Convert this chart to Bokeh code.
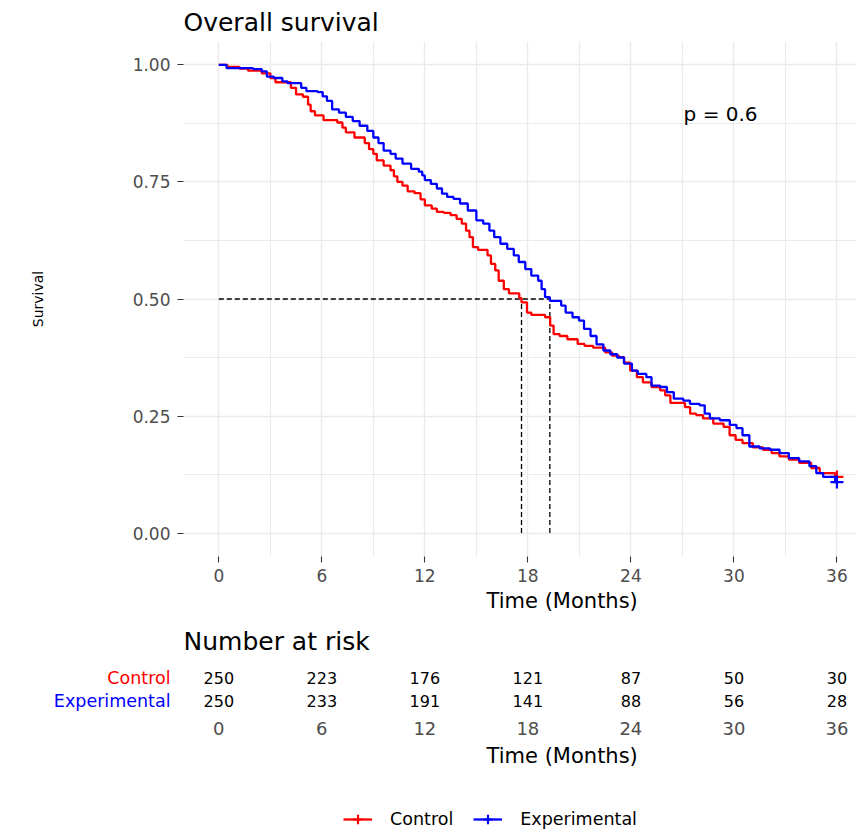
from bokeh.plotting import figure
from bokeh.models import (ColumnDataSource, FixedTicker, Legend, LegendItem,
                          Range1d, NumeralTickFormatter)
from bokeh.layouts import column
from bokeh.embed import file_html
from bokeh.resources import INLINE
from bokeh.core.properties import value

FONT = "DejaVu Sans"

# ---------------- data ----------------
groups = ["Control", "Experimental"]
colors = ["#FF0000", "#0000FF"]

control_time = [0, 0.5, 1.2, 1.7, 2.5, 3.0, 3.3, 4.2, 4.5, 4.9, 5.2, 5.35, 5.6, 6.1, 6.9,
                7.2, 7.4, 7.9, 8.5, 8.75, 9.0, 9.2, 9.6, 10.0, 10.2, 10.4, 10.7, 11.0, 11.4,
                11.75, 12.0, 12.4, 12.7, 13.1, 13.5, 13.85, 14.15, 14.4, 14.6, 14.8, 15.1,
                15.65, 15.85, 16.1, 16.3, 16.6, 16.9, 17.5, 17.63, 17.95, 18.2, 19.0, 19.3,
                19.5, 19.85, 20.3, 20.9, 21.3, 21.8, 22.5, 22.9, 23.3, 23.6, 23.96, 24.35,
                24.7, 25.2, 25.7, 26.0, 26.3, 27.15, 27.45, 27.8, 28.2, 28.8, 29.4, 29.75,
                30.1, 30.5, 31.1, 31.7, 32.2, 32.65, 33.2, 33.8, 34.5, 35.0, 35.9, 36.0]
control_surv = [1.0, 0.996, 0.992, 0.988, 0.982, 0.972, 0.963, 0.951, 0.937, 0.932, 0.915,
                0.901, 0.892, 0.882, 0.877, 0.866, 0.856, 0.845, 0.833, 0.820, 0.810, 0.796,
                0.785, 0.775, 0.762, 0.750, 0.742, 0.730, 0.726, 0.713, 0.700, 0.693, 0.686,
                0.684, 0.679, 0.671, 0.661, 0.646, 0.632, 0.611, 0.605, 0.593, 0.575, 0.561,
                0.539, 0.521, 0.512, 0.502, 0.493, 0.471, 0.466, 0.461, 0.443, 0.425, 0.421,
                0.414, 0.404, 0.400, 0.396, 0.386, 0.379, 0.376, 0.364, 0.347, 0.333, 0.322,
                0.312, 0.305, 0.294, 0.278, 0.269, 0.255, 0.252, 0.245, 0.234, 0.227, 0.209,
                0.199, 0.192, 0.183, 0.178, 0.171, 0.164, 0.157, 0.150, 0.139, 0.128, 0.120,
                0.120]

exp_time = [0, 0.45, 2.0, 2.5, 2.8, 3.2, 3.7, 4.0, 4.8, 5.1, 5.75, 6.05, 6.3, 6.6, 7.0, 7.4,
            7.8, 8.2, 8.65, 9.0, 9.3, 9.6, 10.0, 10.3, 10.7, 11.2, 11.65, 11.85, 12.0, 12.35,
            12.7, 13.0, 13.3, 13.67, 14.05, 14.5, 15.0, 15.4, 15.76, 16.04, 16.4, 16.8, 17.18,
            17.47, 17.85, 18.2, 18.6, 18.8, 19.0, 19.28, 19.94, 20.2, 20.6, 20.98, 21.27,
            21.65, 22.0, 22.4, 22.8, 23.2, 23.6, 24.06, 24.4, 24.9, 25.2, 25.7, 26.1, 26.5,
            27.05, 27.44, 28.0, 28.3, 28.6, 29.18, 29.76, 30.15, 30.5, 30.9, 31.5, 32.1,
            32.66, 33.2, 33.8, 34.4, 34.8, 35.2, 35.9, 36.0]
exp_surv = [1.0, 0.993, 0.991, 0.986, 0.975, 0.972, 0.965, 0.961, 0.951, 0.944, 0.942, 0.933,
            0.923, 0.905, 0.898, 0.889, 0.880, 0.870, 0.859, 0.845, 0.833, 0.817, 0.810, 0.800,
            0.789, 0.778, 0.772, 0.764, 0.754, 0.746, 0.736, 0.725, 0.718, 0.714, 0.704, 0.689,
            0.668, 0.661, 0.646, 0.632, 0.618, 0.607, 0.593, 0.579, 0.564, 0.550, 0.539, 0.521,
            0.504, 0.496, 0.486, 0.471, 0.461, 0.454, 0.436, 0.421, 0.403, 0.390, 0.382, 0.375,
            0.362, 0.347, 0.340, 0.333, 0.315, 0.312, 0.301, 0.287, 0.283, 0.276, 0.273, 0.255,
            0.245, 0.241, 0.231, 0.224, 0.209, 0.185, 0.181, 0.178, 0.171, 0.160, 0.153, 0.143,
            0.128, 0.120, 0.109, 0.109]

median_times = [17.63, 19.28]
median_level = 0.5
p_value_text = "p = 0.6"

x_ticks = [0, 6, 12, 18, 24, 30, 36]
y_ticks = [0.0, 0.25, 0.5, 0.75, 1.0]

risk_times = [0, 6, 12, 18, 24, 30, 36]
control_risk = [250, 223, 176, 121, 87, 50, 30]
exp_risk = [250, 233, 191, 141, 88, 56, 28]

TICK_GREY = "#4D4D4D"
GRID = "#EBEBEB"
W = 856


def no_align(fig):
    if "frame_align" in fig.properties():
        fig.frame_align = False


# ---------------- main survival plot ----------------
p = figure(width=W, height=588, x_range=Range1d(-2.056, 37.14), y_range=Range1d(-0.05, 1.05),
           output_backend="svg", toolbar_location=None, title="Overall survival",
           min_border_left=183, min_border_right=0, min_border_top=41, min_border_bottom=32)
no_align(p)
p.outline_line_color = None
p.title.text_font = FONT
p.title.text_font_size = "25px"
p.title.text_font_style = "normal"
p.title.text_color = "black"
p.title.standoff = 10
p.title.offset = 0

x_minor = [a + (b - a) / 2 for a, b in zip(x_ticks[:-1], x_ticks[1:])]
y_minor = [a + (b - a) / 2 for a, b in zip(y_ticks[:-1], y_ticks[1:])]
p.xaxis.ticker = FixedTicker(ticks=x_ticks, minor_ticks=x_minor)
p.yaxis.ticker = FixedTicker(ticks=y_ticks, minor_ticks=y_minor)
p.yaxis.formatter = NumeralTickFormatter(format="0.00")

for grid in (p.xgrid, p.ygrid):
    grid.grid_line_color = GRID
    grid.grid_line_width = 1.4
    grid.minor_grid_line_color = GRID
    grid.minor_grid_line_width = 1.2

for ax in (p.xaxis, p.yaxis):
    ax.axis_line_color = None
    ax.major_tick_out = 6
    ax.major_tick_in = 0
    ax.minor_tick_out = 0
    ax.minor_tick_in = 0
    ax.major_tick_line_color = "#333333"
    ax.major_tick_line_width = 1.1
    ax.major_label_text_font = FONT
    ax.major_label_text_font_size = "17px"
    ax.major_label_text_color = TICK_GREY
p.xaxis.major_label_standoff = 6
p.yaxis.major_label_standoff = 7

p.yaxis.axis_label = "Survival"
p.yaxis.axis_label_text_font = FONT
p.yaxis.axis_label_text_font_size = "14px"
p.yaxis.axis_label_text_font_style = "normal"
p.yaxis.axis_label_text_color = "black"
p.yaxis.axis_label_standoff = 84

# median reference lines
top_median = max(median_times)
p.segment(x0=[0], y0=[median_level], x1=[top_median], y1=[median_level],
          line_color="black", line_width=1.3, line_dash="5 3")
p.segment(x0=median_times, y0=[0] * len(median_times), x1=median_times,
          y1=[median_level] * len(median_times),
          line_color="black", line_width=1.3, line_dash="5 3")

curves = [(control_time, control_surv), (exp_time, exp_surv)]
sources = []
for (t, s), c in zip(curves, colors):
    src = ColumnDataSource(dict(t=t, s=s))
    sources.append(src)
    p.step(x="t", y="s", source=src, mode="after", line_color=c, line_width=2.3)
    p.scatter(x=[t[-1]], y=[s[-1]], marker="cross", size=13, line_color=c, line_width=2.2)

p.text(x=[27.07], y=[0.895], text=[p_value_text], text_font=value(FONT),
       text_font_size="20px", text_align="left", text_baseline="middle", text_color="black")

# ---------------- risk table ----------------
risk_x_range = Range1d(-12.714, 37.14)
p2 = figure(width=W, height=154, x_range=risk_x_range, y_range=Range1d(0.478, 5.913),
            output_backend="svg", toolbar_location=None, y_axis_location=None,
            min_border_left=0, min_border_right=0, min_border_top=0, min_border_bottom=29)
no_align(p2)
p2.outline_line_color = None
p2.grid.visible = False

p2.xaxis.ticker = FixedTicker(ticks=risk_times)
p2.xaxis.axis_line_color = None
p2.xaxis.major_tick_out = 0
p2.xaxis.major_tick_in = 0
p2.xaxis.minor_tick_out = 0
p2.xaxis.minor_tick_in = 0
p2.xaxis.major_label_text_font = FONT
p2.xaxis.major_label_text_font_size = "18px"
p2.xaxis.major_label_text_color = TICK_GREY
p2.xaxis.major_label_standoff = 8

# x-axis title of the survival plot (placed under its tick labels)
p2.text(x=[20.0], y=[5.348], text=["Time (Months)"], text_font=value(FONT),
        text_font_size="21px", text_color="black", text_align="center", text_baseline="middle")
# risk-table heading
p2.text(x=[-2.056], y=[3.609], text=["Number at risk"], text_font=value(FONT),
        text_font_size="25px", text_color="black", text_align="left", text_baseline="middle")

rows = [len(groups) - i for i in range(len(groups))]
p2.text(x=[-2.81] * len(groups), y=rows, text=groups, text_color=colors,
        text_font=value(FONT), text_font_size="17.5px", text_align="right",
        text_baseline="middle")
for row, counts in zip(rows, [control_risk, exp_risk]):
    p2.text(x=risk_times, y=[row] * len(risk_times), text=[str(n) for n in counts],
            text_font=value(FONT), text_font_size="16px", text_color="black",
            text_align="center", text_baseline="middle")

# ---------------- bottom strip: axis title + legend ----------------
p3 = figure(width=W, height=89, x_range=risk_x_range, y_range=Range1d(-1, 0),
            output_backend="svg", toolbar_location=None,
            x_axis_location=None, y_axis_location=None,
            min_border_left=0, min_border_right=0, min_border_top=0, min_border_bottom=0)
no_align(p3)
p3.outline_line_color = None
p3.grid.visible = False
p3.text(x=[20.0], y=[-0.157], text=["Time (Months)"], text_font=value(FONT),
        text_font_size="21px", text_color="black", text_align="center", text_baseline="middle")

# legend renderers reuse the curve data; the values lie outside this strip's y-range
items = []
for src, (t, s), g, c in zip(sources, curves, groups, colors):
    r_line = p3.step(x="t", y="s", source=src, mode="after", line_color=c, line_width=2.3)
    r_mark = p3.scatter(x=[t[-1]], y=[s[-1]], marker="cross", size=13, line_color=c,
                        line_width=2.2)
    items.append(LegendItem(label=g, renderers=[r_line, r_mark]))
legend = Legend(items=items, orientation="horizontal", location=(343, 0),
                glyph_width=29, glyph_height=24, label_standoff=18, spacing=20,
                padding=0, margin=0, border_line_color=None, background_fill_alpha=0,
                label_text_font=FONT, label_text_font_size="17.5px", label_text_color="black")
p3.add_layout(legend)

layout = column(p, p2, p3, spacing=0)
open("out.html", "w").write(file_html(layout, INLINE))
